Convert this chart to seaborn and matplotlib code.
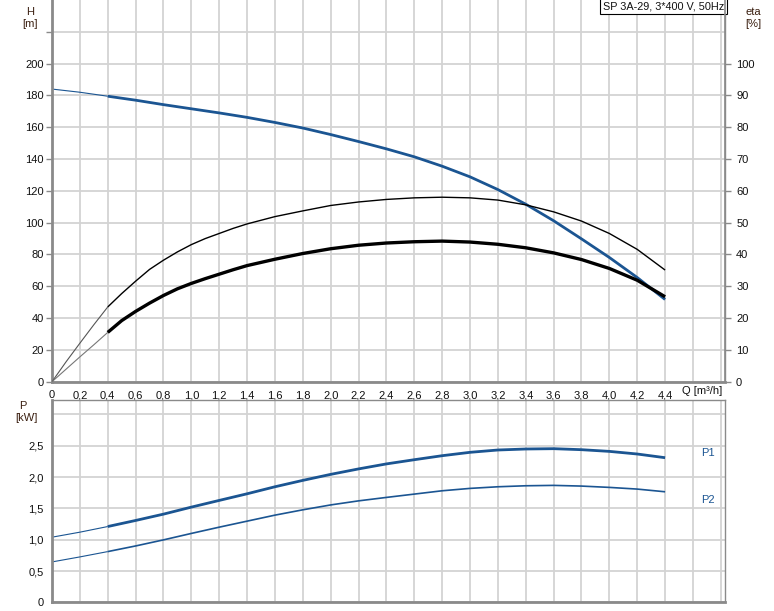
import numpy as np
import pandas as pd
import seaborn as sns
import matplotlib.pyplot as plt

# Flow points (m3/h) for the operating range, and the thin start-up segment
q = [0.4, 0.6, 0.8, 1.0, 1.2, 1.4, 1.6, 1.8, 2.0, 2.2, 2.4, 2.6, 2.8, 3.0,
     3.2, 3.4, 3.6, 3.8, 4.0, 4.2, 4.4]
q_start = [0.0, 0.2, 0.4]
# efficiency curves read at a finer step where they bend most
q_eta = [0.4, 0.5, 0.6, 0.7, 0.8, 0.9, 1.0, 1.1, 1.2, 1.3, 1.4, 1.6, 1.8,
         2.0, 2.2, 2.4, 2.6, 2.8, 3.0, 3.2, 3.4, 3.6, 3.8, 4.0, 4.2, 4.4]
q_eta_start = [0.0, 0.1, 0.2, 0.3, 0.4]

# Head H [m]
head = [179.5, 177.0, 174.2, 171.6, 169.0, 166.2, 163.0, 159.5, 155.4, 151.0,
        146.4, 141.4, 135.5, 128.8, 120.8, 111.6, 101.2, 89.8, 78.1, 65.5, 51.7]
head_start = [184.0, 182.0, 179.5]

# Efficiencies eta [%]
eta_pump = [23.5, 27.7, 31.6, 35.3, 38.2, 40.8, 43.1, 45.0, 46.6, 48.2, 49.6,
            51.9, 53.7, 55.4, 56.5, 57.3, 57.8, 58.0, 57.8, 57.1, 55.6, 53.4,
            50.5, 46.6, 41.6, 35.1]
eta_pump_start = [0.0, 6.2, 12.1, 17.9, 23.5]
eta_total = [15.5, 19.2, 22.1, 24.7, 27.1, 29.2, 30.9, 32.4, 33.8, 35.2, 36.5,
             38.5, 40.3, 41.8, 42.9, 43.6, 44.0, 44.2, 43.9, 43.2, 42.1, 40.5,
             38.4, 35.6, 31.9, 26.7]
eta_total_start = [0.0, 3.9, 7.8, 11.6, 15.5]

# Power P [kW]
p1 = [1.21, 1.307, 1.408, 1.52, 1.627, 1.733, 1.845, 1.947, 2.043, 2.13,
      2.21, 2.277, 2.341, 2.395, 2.432, 2.448, 2.453, 2.437, 2.41, 2.368, 2.309]
p1_start = [1.04, 1.12, 1.21]
p2 = [0.81, 0.90, 0.997, 1.10, 1.20, 1.296, 1.392, 1.477, 1.555, 1.62, 1.675,
      1.728, 1.781, 1.819, 1.845, 1.861, 1.867, 1.856, 1.835, 1.808, 1.765]
p2_start = [0.645, 0.725, 0.81]

x_ticks = np.round(np.arange(0, 4.81, 0.2), 1)
x_labels = [('0' if v == 0 else f'{v:.1f}'.replace('.', ',')) if v <= 4.4 else ''
            for v in x_ticks]

sns.set_style('white')
plt.rcParams['font.family'] = ['Liberation Sans', 'DejaVu Sans']
plt.rcParams['font.size'] = 8
plt.rcParams['lines.solid_joinstyle'] = 'round'
plt.rcParams['lines.solid_capstyle'] = 'butt'

blue = '#1b5592'
grid_c = '#d3d3d3'
spine_c = '#8a8a8a'
lab_c = '#3a1f10'

fig = plt.figure(figsize=(7.74, 6.11), dpi=100)
ax = fig.add_axes([0.0672, 0.3753, 0.8695, 0.6247])
axp = fig.add_axes([0.0672, 0.0142, 0.8695, 0.3311])


def style_axis(a):
    a.set_xlim(0, 4.83)
    a.set_xticks(x_ticks)
    a.grid(True, color=grid_c, linewidth=1.3)
    a.set_axisbelow(True)
    a.tick_params(direction='out', length=4, width=1, color=spine_c,
                  labelsize=8, labelcolor='#111111', pad=2)
    for s in ['left', 'bottom']:
        a.spines[s].set_color(spine_c)
        a.spines[s].set_linewidth(2)
    for s in ['right', 'top']:
        a.spines[s].set_color(spine_c)
        a.spines[s].set_linewidth(1)
    a.set_xlabel('')
    a.set_ylabel('')


# ---- top panel: head and efficiency ----
sns.lineplot(x=q_start, y=head_start, ax=ax, color=blue, linewidth=0.8)
sns.lineplot(x=q, y=head, ax=ax, color=blue, linewidth=2)
ax.set_ylim(0, 240)
ax.set_yticks(range(0, 221, 20))
ax.set_yticklabels([str(v) if v <= 200 else '' for v in range(0, 221, 20)])
style_axis(ax)
ax.spines['top'].set_visible(False)
ax.set_xticklabels(x_labels)

ax2 = ax.twinx()
sns.lineplot(x=q_eta_start, y=eta_pump_start, ax=ax2, color='#555555', linewidth=0.8)
sns.lineplot(x=q_eta_start, y=eta_total_start, ax=ax2, color='#777777', linewidth=0.8)
sns.lineplot(x=q_eta, y=eta_pump, ax=ax2, color='black', linewidth=1.0)
sns.lineplot(x=q_eta, y=eta_total, ax=ax2, color='black', linewidth=2.4)
ax2.set_ylim(0, 120)
ax2.set_yticks(range(0, 101, 10))
ax2.tick_params(direction='out', length=4, width=1, color=spine_c,
                labelsize=8, labelcolor='#111111', pad=4)
for s in ax2.spines.values():
    s.set_visible(False)
ax2.spines['right'].set_visible(True)
ax2.spines['right'].set_color(spine_c)
ax2.spines['right'].set_linewidth(1.2)
ax2.set_ylabel('')
ax2.grid(False)

ax.text(0.9985, 0.997, 'SP 3A-29, 3*400 V, 50Hz', transform=ax.transAxes,
        ha='right', va='top', fontsize=7.8, color='#111111',
        bbox=dict(boxstyle='square,pad=0.25', facecolor='white',
                  edgecolor='black', linewidth=0.8))

fig.text(30 / 774, 1 - 12 / 611, 'H', ha='center', va='center', color=lab_c)
fig.text(30 / 774, 1 - 24 / 611, '[m]', ha='center', va='center', color=lab_c)
fig.text(753 / 774, 1 - 12 / 611, 'eta', ha='center', va='center', color=lab_c)
fig.text(753 / 774, 1 - 24 / 611, '[%]', ha='center', va='center', color=lab_c)
fig.text(722 / 774, 1 - 391 / 611, 'Q [m³/h]', ha='right', va='center',
         color='#111111')

# ---- bottom panel: power ----
sns.lineplot(x=q_start, y=p1_start, ax=axp, color=blue, linewidth=0.8)
sns.lineplot(x=q_start, y=p2_start, ax=axp, color=blue, linewidth=0.8)
sns.lineplot(x=q, y=p1, ax=axp, color=blue, linewidth=2)
sns.lineplot(x=q, y=p2, ax=axp, color=blue, linewidth=1.2)
axp.set_ylim(0, 3.23)
axp.set_yticks([0, 0.5, 1.0, 1.5, 2.0, 2.5, 3.0])
axp.set_yticklabels(['0', '0,5', '1,0', '1,5', '2,0', '2,5', ''])
style_axis(axp)
axp.tick_params(axis='x', labelbottom=False, length=0)
axp.text(4.71, 2.39, 'P1', ha='center', va='center', color=blue, fontsize=8)
axp.text(4.71, 1.64, 'P2', ha='center', va='center', color=blue, fontsize=8)

fig.text(23 / 774, 1 - 406 / 611, 'P', ha='center', va='center', color=lab_c)
fig.text(26 / 774, 1 - 418 / 611, '[kW]', ha='center', va='center', color=lab_c)

fig.savefig('out.png', dpi=100)
